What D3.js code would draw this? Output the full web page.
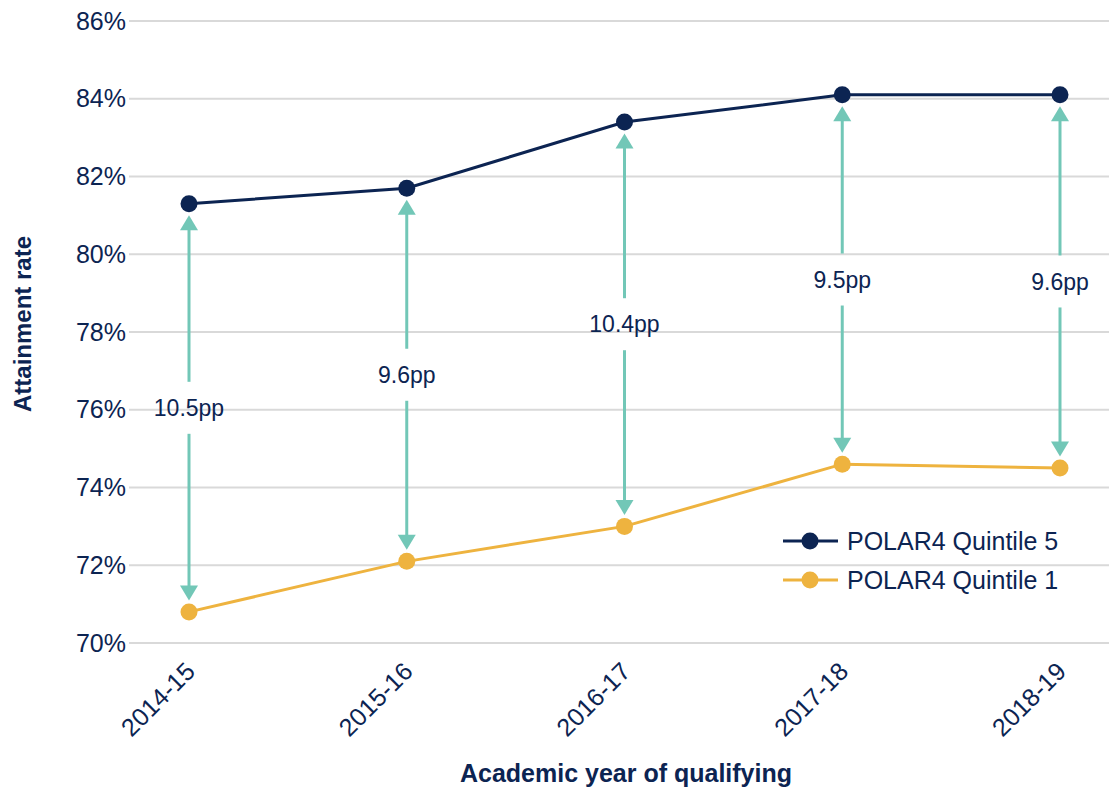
<!DOCTYPE html>
<html><head><meta charset="utf-8">
<script src="https://cdn.jsdelivr.net/npm/d3@7"></script>
<style>body{margin:0;background:#fff}svg{display:block;font-family:"Liberation Sans",Arial,sans-serif}</style>
</head><body><svg id="c" width="1109" height="790"></svg>
<script>
const years = ["2014-15","2015-16","2016-17","2017-18","2018-19"];
const q5 = [81.3, 81.7, 83.4, 84.1, 84.1];
const q1 = [70.8, 72.1, 73.0, 74.6, 74.5];
const gapLabels = ["10.5pp","9.6pp","10.4pp","9.5pp","9.6pp"];
const yTicks = [70,72,74,76,78,80,82,84,86];
const seriesNames = ["POLAR4 Quintile 5","POLAR4 Quintile 1"];

const navy = "#0c2452", orange = "#eeb33f", teal = "#72c7b7", grid = "#d9d9d9";
const FF = "Liberation Sans, Arial, sans-serif";
const svg = d3.select("#c");
const x = d3.scalePoint().domain(years).range([189, 1060]);
const y = d3.scaleLinear().domain([70, 86]).range([643, 21]);

// gridlines
svg.append("g").selectAll("line").data(yTicks).join("line")
  .attr("x1", 129).attr("x2", 1109).attr("y1", d => y(d)).attr("y2", d => y(d))
  .attr("stroke", grid).attr("stroke-width", 2);

// y axis
const ya = svg.append("g").attr("transform", "translate(129,0)")
  .call(d3.axisLeft(y).tickValues(yTicks).tickSize(0).tickPadding(3).tickFormat(d => d + "%"));
ya.select(".domain").remove();
ya.selectAll("text").attr("font-size", 25).attr("fill", navy).attr("font-family", FF);

// x axis
const xa = svg.append("g").attr("transform", "translate(0,652)")
  .call(d3.axisBottom(x).tickSize(0).tickPadding(0));
xa.select(".domain").remove();
xa.selectAll("text").attr("font-size", 25).attr("fill", navy).attr("font-family", FF)
  .attr("text-anchor", "end").attr("y", 0).attr("dy", 0).attr("dx", 0)
  .attr("transform", "translate(7,21) rotate(-45)");

// axis titles
svg.append("text").attr("transform", "translate(31,324) rotate(-90)").attr("text-anchor", "middle")
  .attr("font-size", 24).attr("font-weight", "bold").attr("fill", navy).text("Attainment rate");
svg.append("text").attr("x", 626).attr("y", 782).attr("text-anchor", "middle")
  .attr("font-size", 25).attr("font-weight", "bold").attr("fill", navy).text("Academic year of qualifying");

// arrows
const r = 8.5, gapHalf = 26, headH = 15, headW = 9;
const ag = svg.append("g");
years.forEach((yr, i) => {
  const cx = x(yr);
  const top = y(q5[i]) + r + 3, bot = y(q1[i]) - r - 3;
  const mid = y((q5[i] + q1[i]) / 2);
  ag.append("line").attr("x1", cx).attr("x2", cx).attr("y1", top + headH - 1).attr("y2", mid - gapHalf)
    .attr("stroke", teal).attr("stroke-width", 3);
  ag.append("line").attr("x1", cx).attr("x2", cx).attr("y1", mid + gapHalf).attr("y2", bot - headH + 1)
    .attr("stroke", teal).attr("stroke-width", 3);
  ag.append("path").attr("d", `M${cx},${top}L${cx - headW},${top + headH}L${cx + headW},${top + headH}Z`).attr("fill", teal);
  ag.append("path").attr("d", `M${cx},${bot}L${cx - headW},${bot - headH}L${cx + headW},${bot - headH}Z`).attr("fill", teal);
  ag.append("text").attr("x", cx).attr("y", mid).attr("dy", "0.35em").attr("text-anchor", "middle")
    .attr("font-size", 23).attr("fill", navy).text(gapLabels[i]);
});

// lines and dots
const line = d3.line().x((d, i) => x(years[i])).y(d => y(d));
[[q5, navy], [q1, orange]].forEach(([data, col]) => {
  svg.append("path").datum(data).attr("d", line).attr("fill", "none").attr("stroke", col).attr("stroke-width", 3);
  svg.append("g").selectAll("circle").data(data).join("circle")
    .attr("cx", (d, i) => x(years[i])).attr("cy", d => y(d)).attr("r", r).attr("fill", col);
});

// legend
const lg = svg.append("g");
[[seriesNames[0], navy, 541], [seriesNames[1], orange, 580]].forEach(([name, col, ly]) => {
  lg.append("line").attr("x1", 783).attr("x2", 838).attr("y1", ly).attr("y2", ly).attr("stroke", col).attr("stroke-width", 3);
  lg.append("circle").attr("cx", 810).attr("cy", ly).attr("r", 8.5).attr("fill", col);
  lg.append("text").attr("x", 847).attr("y", ly).attr("dy", "0.35em").attr("font-size", 25).attr("fill", navy).text(name);
});
</script></body></html>
